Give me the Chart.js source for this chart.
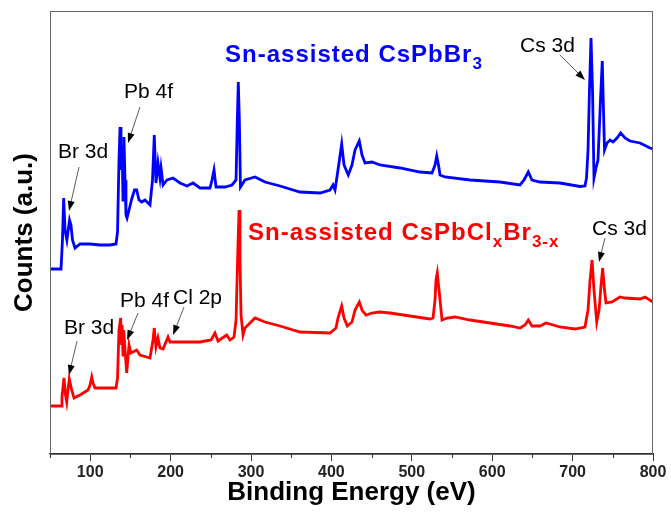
<!DOCTYPE html>
<html>
<head>
<meta charset="utf-8">
<script src="https://cdn.jsdelivr.net/npm/chart.js@4.4.1/dist/chart.umd.min.js"></script>
<style>
  html, body { margin: 0; padding: 0; background: #fff; }
  #wrap { width: 671px; height: 518px; position: relative; }
</style>
</head>
<body>
<div id="wrap"><canvas id="c" width="671" height="518"></canvas></div>
<script>
// ---- Data (binding energy in eV, counts in arbitrary units) ----
const xTicks = [100, 200, 300, 400, 500, 600, 700, 800];

const blueEnergy = [50, 63.7, 65.5, 67.0, 68.7, 71.0, 74.3, 76.1, 78.0, 81.1, 87.3, 99.8, 112.2, 124.6, 132.1, 134.0,
  135.8, 137.1, 138.3, 139.6, 140.8, 142.0, 143.3, 144.5, 145.8, 148.3, 152.0, 155.1, 157.8, 160.7, 164.1, 168.2,
  174.4, 177.5, 179.7, 181.8, 184.3, 186.8, 188.1, 190.6, 195.5, 203.0, 211.7, 220.4, 227.9, 236.6, 249.0, 251.5,
  254.0, 256.5, 267.7, 276.4, 281.4, 283.0, 284.2, 285.5, 286.9, 292.5, 305.0, 317.4, 336.1, 360.9, 385.8, 398.3,
  402.0, 404.5, 408.2, 412.8, 415.7, 421.0, 425.6, 429.4, 434.7, 438.1, 441.8, 450.5, 460.5, 485.3, 510.2, 525.1,
  528.9, 531.0, 533.2, 535.1, 541.3, 572.4, 609.7, 634.6, 639.6, 644.9, 649.5, 659.5, 684.3, 709.2, 715.4, 717.3,
  719.2, 721.0, 722.9, 724.8, 726.6, 729.1, 731.6, 734.7, 736.9, 738.4, 739.7, 742.8, 746.5, 750.3, 755.2, 759.8,
  765.2, 771.4, 783.9, 796.3, 800];
const blueCounts = [185, 185, 214, 256, 224, 214, 234, 229, 214, 206, 210, 210, 209, 209, 210, 222,
  294, 327, 284, 309, 254, 317, 274, 239, 236, 244, 256, 264, 264, 254, 252, 254,
  249, 274, 319, 271, 291, 276, 286, 269, 274, 276, 271, 268, 271, 266, 266, 274,
  284, 267, 267, 269, 274, 334, 372, 334, 267, 274, 277, 272, 268, 262, 261, 264,
  269, 264, 284, 310, 289, 279, 289, 304, 313, 299, 291, 292, 289, 286, 282, 281,
  289, 298, 289, 279, 277, 274, 272, 269, 274, 282, 274, 272, 271, 267.5, 268, 276,
  304, 364, 416, 364, 276, 286, 294, 354, 393, 344, 304, 311, 314, 312, 316, 321,
  316, 313, 311, 306, 305];

const redEnergy = [50, 63.7, 64.9, 67.4, 69.3, 70.8, 72.4, 74.0, 77.0, 79.9, 87.3, 97.3, 99.8, 101.9, 103.5, 106.0,
  124.6, 132.1, 134.0, 135.8, 137.9, 139.0, 139.6, 140.8, 141.7, 143.3, 145.4, 148.3, 150.7, 157.8, 161.9, 174.4,
  178.1, 179.7, 181.8, 184.3, 186.8, 190.6, 196.8, 199.3, 205.5, 211.7, 236.6, 250.3, 255.2, 259.0, 269.8, 273.9,
  278.9, 281.4, 283.3, 285.1, 286.3, 287.6, 290.1, 292.5, 305.0, 317.4, 336.1, 360.9, 398.3, 405.7, 408.2, 412.8,
  415.7, 419.8, 425.6, 429.4, 434.7, 438.1, 443.0, 450.5, 459.6, 472.9, 497.8, 522.6, 526.4, 528.9, 530.1, 531.7,
  533.2, 535.1, 537.6, 543.8, 553.7, 572.4, 597.3, 622.1, 634.6, 640.8, 644.9, 649.5, 659.5, 667.0, 684.3, 703.0,
  715.4, 719.2, 721.7, 724.2, 726.6, 730.0, 732.9, 735.4, 737.4, 739.7, 741.5, 749.0, 759.0, 765.2, 783.9, 790.1, 800];
const redCounts = [48, 48, 57, 76, 59, 52, 64, 75, 64, 56, 59, 64, 69, 77, 71, 66,
  66, 66, 76, 124, 136, 109, 129, 99, 124, 104, 81, 109, 101, 104, 99, 96,
  114, 126, 107, 116, 106, 105, 117, 112, 112, 112, 112, 114, 121, 113, 119, 114,
  117, 134, 194, 244, 194, 139, 119, 126, 136, 132, 128, 122, 121, 126, 136, 148,
  136, 128, 132, 144, 152, 144, 139, 141, 142, 141, 138, 135, 136, 154, 174, 181,
  169, 154, 134, 136, 137, 134, 131, 128, 126, 129, 134, 128, 128, 131, 127, 125,
  127, 144, 174, 194, 164, 132, 144, 169, 186, 164, 151, 152, 157, 156, 155, 157, 152];

const blueName = 'Sn-assisted CsPbBr3';
const redName = 'Sn-assisted CsPbClxBr3-x';

// ---- Annotations (text anchor and arrow in data units: eV, counts) ----
const annotations = [
  { text: 'Br 3d', x: 60.0, y: 296, from: [86.1, 287], to: [73.6, 243] },
  { text: 'Pb 4f', x: 142.0, y: 356, from: [161.9, 347], to: [147.0, 311] },
  { text: 'Cs 3d', x: 634.6, y: 402, from: [684.3, 399], to: [715.4, 374] },
  { text: 'Br 3d', x: 67.4, y: 120, from: [83.6, 113], to: [73.6, 79] },
  { text: 'Pb 4f', x: 137.1, y: 147, from: [159.5, 141], to: [145.8, 114] },
  { text: 'Cl 2p', x: 203.0, y: 150, from: [216.7, 147], to: [203.0, 119] },
  { text: 'Cs 3d', x: 724.1, y: 219, from: [740.3, 216], to: [732.8, 192] }
];
const seriesLabels = [
  { parts: [['Sn-assisted CsPbBr', 0], ['3', 1]], x: 267.7, y: 392, color: '#0000FF' },
  { parts: [['Sn-assisted CsPbCl', 0], ['x', 1], ['Br', 0], ['3-x', 1]], x: 296.3, y: 214, color: '#FF0000' }
];

const toXY = (xs, ys) => xs.map((v, i) => ({ x: v, y: ys[i] }));

const FONT = '"Liberation Sans", Arial, Helvetica, sans-serif';

const decor = {
  id: 'decor',
  afterDraw(chart) {
    const { ctx, chartArea: a, scales } = chart;
    const xs = scales.x, ys = scales.y;
    ctx.save();
    // frame
    ctx.strokeStyle = '#666';
    ctx.lineWidth = 1;
    ctx.strokeRect(a.left + 0.5, a.top + 0.5, a.right - a.left - 1, a.bottom - a.top);
    // minor ticks
    ctx.strokeStyle = '#333';
    ctx.lineWidth = 1;
    for (let v = 50; v < 800; v += 100) {
      const px = Math.round(xs.getPixelForValue(v)) + 0.5;
      ctx.beginPath();
      ctx.moveTo(px, a.bottom);
      ctx.lineTo(px, a.bottom + 4);
      ctx.stroke();
    }
    // annotations
    ctx.fillStyle = '#000';
    ctx.font = '21px ' + FONT;
    ctx.textBaseline = 'alphabetic';
    ctx.textAlign = 'left';
    annotations.forEach(an => {
      ctx.fillStyle = '#000';
      ctx.fillText(an.text, xs.getPixelForValue(an.x), ys.getPixelForValue(an.y));
      const x1 = xs.getPixelForValue(an.from[0]), y1 = ys.getPixelForValue(an.from[1]);
      const x2 = xs.getPixelForValue(an.to[0]), y2 = ys.getPixelForValue(an.to[1]);
      const ang = Math.atan2(y2 - y1, x2 - x1);
      ctx.strokeStyle = '#333';
      ctx.lineWidth = 0.8;
      ctx.beginPath();
      ctx.moveTo(x1, y1);
      ctx.lineTo(x2 - 6 * Math.cos(ang), y2 - 6 * Math.sin(ang));
      ctx.stroke();
      ctx.beginPath();
      ctx.moveTo(x2, y2);
      ctx.lineTo(x2 - 10 * Math.cos(ang) + 3.5 * Math.sin(ang), y2 - 10 * Math.sin(ang) - 3.5 * Math.cos(ang));
      ctx.lineTo(x2 - 10 * Math.cos(ang) - 3.5 * Math.sin(ang), y2 - 10 * Math.sin(ang) + 3.5 * Math.cos(ang));
      ctx.closePath();
      ctx.fill();
    });
    // series labels with subscripts
    seriesLabels.forEach(sl => {
      let x = xs.getPixelForValue(sl.x);
      const y = ys.getPixelForValue(sl.y);
      ctx.fillStyle = sl.color;
      sl.parts.forEach(([t, sub]) => {
        ctx.font = (sub ? 'bold 17px ' : 'bold 24px ') + FONT;
        ctx.letterSpacing = '1px';
        ctx.fillText(t, x, sub ? y + 7 : y);
        x += ctx.measureText(t).width;
      });
    });
    ctx.restore();
  }
};

new Chart(document.getElementById('c'), {
  type: 'line',
  data: {
    datasets: [
      { label: blueName, data: toXY(blueEnergy, blueCounts), borderColor: '#0000FF', borderWidth: 2.8, pointRadius: 0, tension: 0, fill: false },
      { label: redName, data: toXY(redEnergy, redCounts), borderColor: '#FF0000', borderWidth: 2.8, pointRadius: 0, tension: 0, fill: false }
    ]
  },
  options: {
    responsive: false,
    animation: false,
    events: [],
    layout: { padding: { top: 11, right: 18, left: 0, bottom: 0 } },
    plugins: { legend: { display: false }, tooltip: { enabled: false } },
    scales: {
      x: {
        type: 'linear',
        min: 50, max: 800,
        afterFit: s => { s.height = 64; },
        afterBuildTicks: s => { s.ticks = [50].concat(xTicks).map(v => ({ value: v })); },
        ticks: {
          autoSkip: false, maxRotation: 0,
          callback: v => (xTicks.includes(v) ? String(v) : ''),
          color: '#222',
          font: { family: FONT, size: 16, weight: 'bold' },
          padding: 2
        },
        grid: {
          display: true, drawOnChartArea: false, tickLength: 7,
          tickColor: c => (c.tick && xTicks.includes(c.tick.value) ? '#333' : 'rgba(0,0,0,0)')
        },
        border: { display: true, color: '#333', width: 1.2 },
        title: {
          display: true, text: 'Binding Energy (eV)', color: '#000',
          font: { family: FONT, size: 26, weight: 'bold' },
          padding: { top: 0, bottom: 10 }
        }
      },
      y: {
        type: 'linear',
        min: 0, max: 443,
        afterFit: s => { s.width = 50; },
        ticks: { display: false },
        grid: { display: false },
        border: { display: true, color: '#666', width: 1 },
        title: {
          display: true, text: 'Counts (a.u.)', color: '#000',
          font: { family: FONT, size: 26, weight: 'bold' },
          padding: { top: 9, bottom: 0 }
        }
      }
    }
  },
  plugins: [decor]
});
</script>
</body>
</html>
